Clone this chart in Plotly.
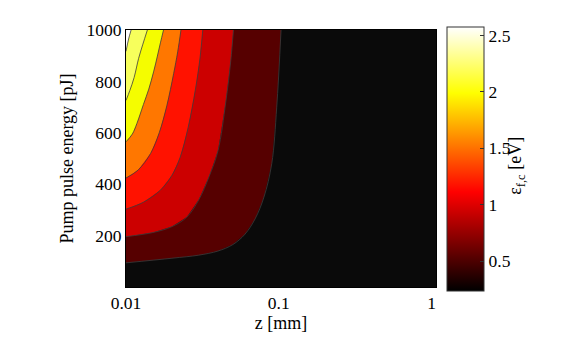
import plotly.graph_objects as go

# contour boundaries, lowest level first
# (z in mm, pump pulse energy in pJ)
z_lvl1 = [0.01, 0.02, 0.03, 0.04, 0.05, 0.06, 0.07, 0.08, 0.09, 0.097, 0.1035]
e_lvl1 = [94, 112, 124, 140, 165, 205, 265, 350, 480, 700, 1000]
z_lvl2 = [0.01, 0.015, 0.02, 0.025, 0.03, 0.035, 0.04, 0.045, 0.0485, 0.0505]
e_lvl2 = [196, 212, 235, 272, 340, 430, 530, 720, 880, 1000]
z_lvl3 = [0.01, 0.013, 0.0168, 0.02, 0.0226, 0.0255, 0.0285, 0.0305, 0.0318]
e_lvl3 = [303, 330, 377, 435, 504, 620, 770, 890, 1000]
z_lvl4 = [0.01, 0.012, 0.0145, 0.0165, 0.0185, 0.0205, 0.0218, 0.0229]
e_lvl4 = [424, 455, 520, 600, 705, 830, 915, 1000]
z_lvl5 = [0.01, 0.011, 0.0118, 0.013, 0.0141, 0.0152, 0.016, 0.0168, 0.0176]
e_lvl5 = [565, 595, 637, 710, 770, 840, 895, 950, 1000]
z_lvl6 = [0.01, 0.0106, 0.0113, 0.0121, 0.0129, 0.0138]
e_lvl6 = [726, 765, 815, 890, 945, 1000]
z_lvl7 = [0.01, 0.0104, 0.0108]
e_lvl7 = [917, 965, 1000]

z_range = [0.01, 1.07]
e_range = [0, 1000]
z_ticks = [0.01, 0.1, 1]
z_ticktext = ["0.01", "0.1", "1"]
e_ticks = [200, 400, 600, 800, 1000]
cbar_range = [0.24, 2.58]
cbar_ticks = [0.5, 1, 1.5, 2, 2.5]
cbar_ticktext = ["0.5", "1", "1.5", "2", "2.5"]

levels = [(z_lvl1, e_lvl1), (z_lvl2, e_lvl2), (z_lvl3, e_lvl3), (z_lvl4, e_lvl4),
          (z_lvl5, e_lvl5), (z_lvl6, e_lvl6), (z_lvl7, e_lvl7)]
fill_colors = ["#560000", "#cc0000", "#ff1200", "#ff7700", "#f5fd00", "#f7ff5c", "#ffffff"]
hot = [[0, "#000000"], [0.375, "#ff0000"], [0.75, "#ffff00"], [1, "#ffffff"]]
font = "Liberation Serif, Times New Roman, serif"

fig = go.Figure()

# filled regions: everything above/left of each boundary
for (zs, es), col in zip(levels, fill_colors):
    fig.add_trace(go.Scatter(
        x=zs + [z_range[0]], y=es + [e_range[1]],
        mode="none", fill="toself", fillcolor=col,
        hoverinfo="skip", showlegend=False,
    ))

# contour lines
for zs, es in levels:
    fig.add_trace(go.Scatter(
        x=zs, y=es, mode="lines",
        line=dict(color="#3c3c3c", width=0.8, shape="spline"),
        hoverinfo="skip", showlegend=False,
    ))

# colour bar
fig.add_trace(go.Scatter(
    x=[z_range[0], z_range[0]], y=[e_range[1], e_range[1]], mode="markers",
    marker=dict(
        size=1, opacity=0, color=cbar_range, colorscale=hot,
        cmin=cbar_range[0], cmax=cbar_range[1], showscale=True,
        colorbar=dict(
            x=1.035, xanchor="left", xpad=0, ypad=0,
            y=0.5, yanchor="middle", lenmode="pixels", len=264,
            thicknessmode="pixels", thickness=37,
            outlinecolor="#333333", outlinewidth=1,
            tickvals=cbar_ticks, ticktext=cbar_ticktext,
            ticks="inside", ticklen=4, tickcolor="#333333",
            tickfont=dict(family=font, size=17.5, color="black"),
        ),
    ),
    hoverinfo="skip", showlegend=False,
))

fig.add_annotation(
    text="ε<sub>f,c</sub> [eV]", textangle=-90,
    xref="paper", yref="paper", x=1.26, y=0.47,
    xanchor="center", yanchor="middle", showarrow=False,
    font=dict(family=font, size=18, color="black"),
)

fig.update_layout(
    width=573, height=335,
    margin=dict(l=118, r=145, t=17, b=56),
    paper_bgcolor="white", plot_bgcolor="#0a0a0a",
    font=dict(family=font, size=17.5, color="black"),
    xaxis=dict(
        type="log", range=[-2, 0.0294], tickvals=z_ticks, ticktext=z_ticktext,
        showgrid=False, zeroline=False, showline=True, linecolor="black",
        linewidth=1, mirror=True, ticks="",
        title=dict(text="z [mm]", font=dict(family=font, size=18), standoff=2),
    ),
    yaxis=dict(
        range=e_range, tickvals=e_ticks,
        showgrid=False, zeroline=False, showline=True, linecolor="black",
        linewidth=1, mirror=True, ticks="",
        title=dict(text="Pump pulse energy [pJ]", font=dict(family=font, size=18), standoff=8),
    ),
)

fig.write_html("out.html")
